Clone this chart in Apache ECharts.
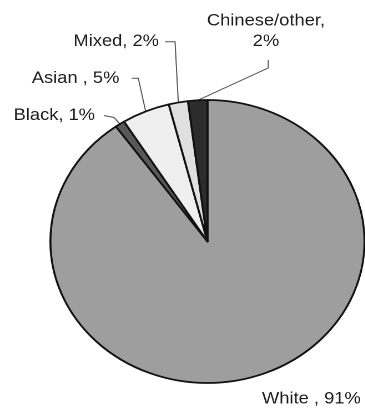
<!DOCTYPE html>
<html>
<head>
<meta charset="utf-8">
<script src="https://cdn.jsdelivr.net/npm/echarts@6/dist/echarts.min.js"></script>
<style>
  html, body { margin: 0; padding: 0; background: #fff; overflow: hidden; }
  #wrap { width: 365px; height: 412px; overflow: hidden; }
  /* the figure is drawn slightly wider than tall */
  #chart { width: 329px; height: 412px; transform: scaleX(1.11); transform-origin: 0 0; }
</style>
</head>
<body>
<div id="wrap"><div id="chart"></div></div>
<script>
// Ethnic groups, clockwise from twelve o'clock
const categories = ['White', 'Black', 'Asian', 'Mixed', 'Chinese/other'];
const percents = [91, 1, 5, 2, 2];
// text drawn before the comma of each label
const labelNames = ['White ', 'Black', 'Asian ', 'Mixed', 'Chinese/other'];

const sliceColors = ['#9e9e9e', '#585858', '#efefef', '#e0e0e0', '#2c2c2c'];

const CX = 186.9, CY = 241.5, R = 141.5;

// where each label sits and the bend of its leader line
const labelPlaces = [
  { x: 325, y: 399, align: 'right', verticalAlign: 'middle', line: null },
  { x: 85.6, y: 115.5, align: 'right', verticalAlign: 'middle', line: [[102.7, 117.5], [93.7, 115.5]] },
  { x: 107.5, y: 78.5, align: 'right', verticalAlign: 'middle', line: [[124.6, 78.3], [118.6, 78.3]] },
  { x: 143.2, y: 41.5, align: 'right', verticalAlign: 'middle', line: [[157.7, 41.7], [148.6, 41.7]] },
  { x: 239.6, y: 31, align: 'center', verticalAlign: 'middle', line: [[241.7, 68], [241.7, 60]] }
];

const total = percents.reduce((a, b) => a + b, 0);

// point on the rim at the middle of slice i (clockwise from the top)
function rimPoint(i) {
  let before = 0;
  for (let k = 0; k < i; k++) before += percents[k];
  const mid = (before + percents[i] / 2) / total;
  const a = (90 - mid * 360) * Math.PI / 180;
  return [CX + R * Math.cos(a), CY - R * Math.sin(a)];
}

const chart = echarts.init(document.getElementById('chart'), null, { renderer: 'canvas', devicePixelRatio: 2 });

chart.setOption({
  animation: false,
  series: [{
    type: 'pie',
    center: [CX, CY],
    radius: R,
    startAngle: 90,
    clockwise: true,
    avoidLabelOverlap: false,
    itemStyle: { borderColor: '#111', borderWidth: 1.8 },
    label: {
      show: true,
      position: 'outside',
      fontFamily: 'Liberation Sans, Arial, sans-serif',
      fontSize: 16.5,
      lineHeight: 20.5,
      color: '#1c1c1c',
      formatter: function (p) {
        const i = p.dataIndex;
        return labelNames[i] + ',' + (i === 4 ? '\n' : ' ') + percents[i] + '%';
      }
    },
    labelLine: { show: true, smooth: false, lineStyle: { color: '#555', width: 1 } },
    labelLayout: function (params) {
      const i = params.dataIndex;
      const place = labelPlaces[i];
      const out = { x: place.x, y: place.y, align: place.align, verticalAlign: place.verticalAlign };
      if (place.line) {
        out.labelLinePoints = [rimPoint(i), place.line[0], place.line[1]];
      }
      return out;
    },
    emphasis: { disabled: true },
    data: categories.map((name, i) => ({
      name: name,
      value: percents[i],
      itemStyle: { color: sliceColors[i] },
      labelLine: { show: i !== 0 }
    }))
  }]
});
</script>
</body>
</html>
